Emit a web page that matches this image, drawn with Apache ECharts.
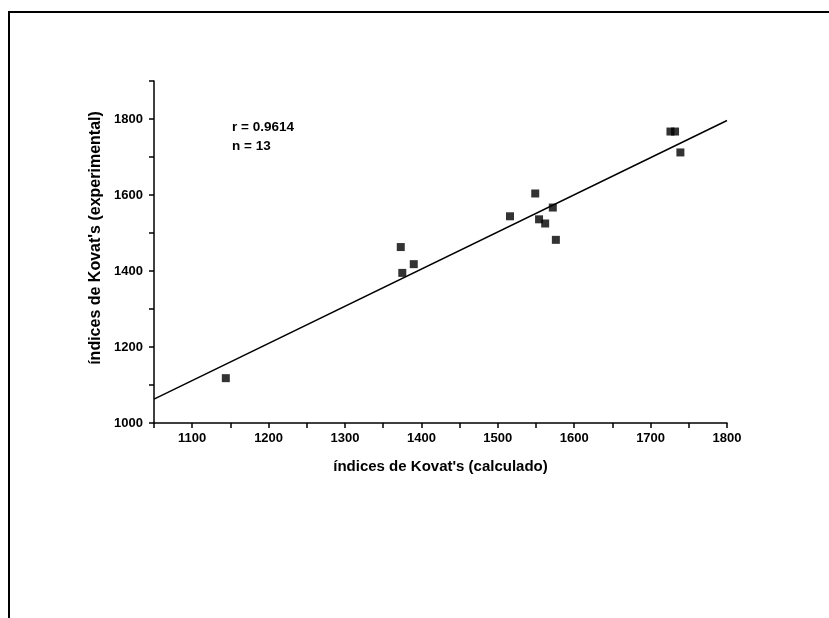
<!DOCTYPE html>
<html>
<head>
<meta charset="utf-8">
<script src="https://cdn.jsdelivr.net/npm/echarts@6/dist/echarts.min.js"></script>
<style>
  html, body { margin: 0; padding: 0; background: #fff; }
  #chart { width: 829px; height: 618px; }
</style>
</head>
<body>
<div id="chart"></div>
<script>
// --- data ---
const calculado = [1144, 1373, 1375, 1390, 1516, 1549, 1554, 1562, 1572, 1576, 1726, 1732, 1739]
const experimental = [1118, 1463, 1395, 1418, 1544, 1604, 1536, 1525, 1567, 1482, 1767, 1767, 1712]
// regression line end points
const fitX = [1050, 1800]
const fitY = [1063, 1796]
const statsLines = ['r = 0.9614', 'n = 13']

const font = '"Liberation Sans", Arial, sans-serif'

const chart = echarts.init(document.getElementById('chart'))

const option = {
  backgroundColor: '#fff',
  animation: false,
  grid: { left: 154, right: 102, top: 81, bottom: 195 },
  xAxis: {
    type: 'value',
    min: 1050,
    max: 1800,
    interval: 50,
    name: "índices de Kovat's (calculado)",
    nameLocation: 'middle',
    nameGap: 36,
    nameTextStyle: { color: '#000', fontFamily: font, fontWeight: 'bold', fontSize: 15 },
    axisLine: { lineStyle: { color: '#000', width: 1.5 } },
    axisTick: { inside: false, length: 5, lineStyle: { color: '#000', width: 1.5 } },
    axisLabel: {
      color: '#000', fontFamily: font, fontWeight: 'bold', fontSize: 13, margin: 9,
      formatter: v => (v % 100 === 0 ? String(v) : '')
    },
    splitLine: { show: false }
  },
  yAxis: {
    type: 'value',
    min: 1000,
    max: 1900,
    interval: 100,
    name: "índices de Kovat's (experimental)",
    nameLocation: 'middle',
    nameGap: 22,
    nameTextStyle: {
      color: '#000', fontFamily: font, fontWeight: 'bold', fontSize: 16,
      padding: [0, 0, 0, 28]
    },
    axisLine: { show: true, lineStyle: { color: '#000', width: 1.5 } },
    axisTick: { show: true, inside: false, length: 5, lineStyle: { color: '#000', width: 1.5 } },
    axisLabel: {
      color: '#000', fontFamily: font, fontWeight: 'bold', fontSize: 13, margin: 11,
      formatter: v => (v % 200 === 0 ? String(v) : '')
    },
    splitLine: { show: false }
  },
  series: [
    {
      type: 'line',
      data: fitX.map((x, i) => [x, fitY[i]]),
      symbol: 'none',
      lineStyle: { color: '#000', width: 1.5 },
      z: 2
    },
    {
      type: 'scatter',
      data: calculado.map((x, i) => [x, experimental[i]]),
      symbol: 'rect',
      symbolSize: 8,
      itemStyle: { color: '#000' },
      z: 3
    }
  ],
  graphic: [
    // outer frame (top and left edges only)
    {
      type: 'polyline',
      shape: { points: [[9, 618], [9, 12], [829, 12]] },
      style: { stroke: '#000', lineWidth: 2, fill: null }
    },
    {
      type: 'text',
      left: 232,
      top: 118,
      style: {
        text: statsLines.join('\n'),
        fill: '#000',
        font: 'bold 13.5px ' + font,
        lineHeight: 19
      }
    }
  ]
}

chart.setOption(option)
</script>
</body>
</html>
